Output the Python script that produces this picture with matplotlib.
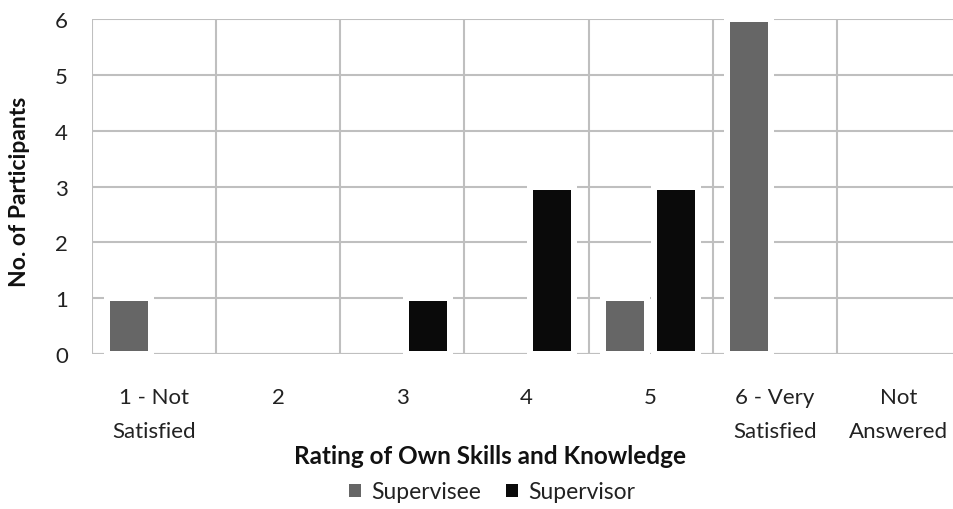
import matplotlib
matplotlib.use("Agg")
import matplotlib.pyplot as plt
from matplotlib.patches import Patch
import numpy as np

plt.rcParams['font.family'] = ['Lato', 'DejaVu Sans']

categories = ["1 - Not\nSatisfied", "2", "3", "4", "5", "6 - Very\nSatisfied", "Not\nAnswered"]
supervisee = [1, 0, 0, 0, 1, 6, 0]
supervisor = [0, 0, 1, 3, 3, 0, 0]
series_names = ["Supervisee", "Supervisor"]
series_colors = ["#666666", "#0a0a0a"]

fig = plt.figure(figsize=(9.54, 5.10), dpi=100)
ax = fig.add_axes([92 / 954, 155 / 510, 869 / 954, 335 / 510])

x = np.arange(len(categories))
offset = 0.205
width = 0.355
edge_lw = 6 * 72 / 100

for vals, dx, col in zip([supervisee, supervisor], [-offset, offset], series_colors):
    heights = np.array(vals, dtype=float)
    mask = heights > 0
    ax.bar(x[mask] + dx, heights[mask], width=width, color=col, edgecolor="white",
           linewidth=edge_lw, zorder=3)

ax.set_xlim(-0.5, len(categories) - 0.5)
ax.set_ylim(0, 6)
ax.set_yticks(range(0, 7))

# vertical grid lines at category boundaries, horizontal at integer counts
for b in np.arange(-0.5, len(categories) + 0.5, 1.0):
    ax.axvline(b, color="#bfbfbf", lw=1.5, zorder=1)
ax.yaxis.grid(True, color="#bfbfbf", lw=1.5, zorder=1)
ax.set_axisbelow(True)

for s in ax.spines.values():
    s.set_visible(False)
ax.axhline(0, color="#bfbfbf", lw=1.5, zorder=2)

fs = 16
ax.set_xticks(x)
ax.set_xticklabels(categories, fontsize=fs, color="#222222", linespacing=1.85)
ax.tick_params(axis="x", length=0, pad=24)
ax.tick_params(axis="y", length=0, pad=22, labelsize=fs, labelcolor="#222222")
for lbl in ax.get_yticklabels():
    lbl.set_horizontalalignment("center")

fig.text(20 / 954, 1 - 192 / 510, "No. of Participants", rotation=90, ha="center", va="center",
         fontsize=16.5, fontweight="bold", color="#111111")
fig.text(490 / 954, 1 - 457 / 510, "Rating of Own Skills and Knowledge", ha="center", va="center",
         fontsize=17.5, fontweight="bold", color="#111111")

handles = [Patch(facecolor=c, edgecolor="none") for c in series_colors]
fig.legend(handles, series_names, loc="center", bbox_to_anchor=(492 / 954, 1 - 493 / 510), ncol=2,
           frameon=False, fontsize=16.5, handlelength=0.5, handleheight=0.5, handletextpad=0.45,
           columnspacing=1.1, labelcolor="#222222")

fig.savefig("out.png", dpi=100)
